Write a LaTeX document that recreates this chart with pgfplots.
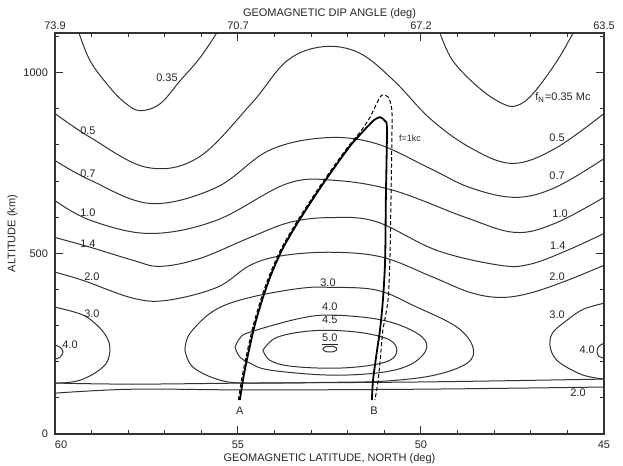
\documentclass[border=0pt]{standalone}
\usepackage{pgfplots}
\pgfplotsset{compat=1.18}
\usepackage{fontspec}
\setmainfont{Liberation Sans}
\newcommand{\fs}{\fontsize{5.5}{6.5}\selectfont}
\tikzset{lab/.style={font=\fs, inner sep=0pt, text=black!85}}
\pgfplotsset{ctr/.style={black!80, line width=0.5pt, smooth, tension=0.6}}
\begin{document}
\begin{tikzpicture}[font=\fs]
\useasboundingbox (-27.5pt,-16pt) rectangle (284pt,217pt);
\begin{axis}[
  at={(0pt,0pt)}, anchor=south west,
  scale only axis, width=274.5pt, height=200.5pt,
  xmin=45, xmax=60, ymin=0, ymax=1110, x dir=reverse,
  xtick={45,50,55,60}, xticklabels={45,50,55,{\makebox[0pt][l]{60}}},
  ytick={0,500,1000}, yticklabels={0,500,1000},
  minor xtick={46,...,59}, minor ytick={100,200,...,1100},
  tick align=inside, major tick length=4pt, minor tick length=1.8pt,
  tick style={black!80, line width=0.5pt},
  axis line style={black!80, line width=0.7pt},
  xlabel={GEOMAGNETIC LATITUDE, NORTH (deg)},
  ylabel={ALTITUDE (km)},
  tick label style={font=\fs, text=black!85},
  label style={font=\fs, text=black!85},
  xlabel style={yshift=4.5pt},
  ylabel style={yshift=-4pt},
]
% 0.35
\addplot[ctr] coordinates {(59.36,1115) (59.04,1033) (58.50,959) (58.09,917) (57.68,895) (57.13,914) (56.58,978) (56.04,1041) (55.55,1115)};
\addplot[ctr] coordinates {(49.50,1115) (49.13,1033) (48.39,956) (47.76,914) (47.38,909) (46.94,942) (46.28,1033) (45.82,1115)};
% 0.5
\addplot[ctr] coordinates {(60,887) (59.02,820) (57.49,738) (56.09,765) (54.64,914) (53.66,1033) (52.68,1072) (51.69,1055) (50.74,978) (49.75,873) (48.66,793) (47.51,749) (46.34,790) (45,887)};
% 0.7
\addplot[ctr] coordinates {(60,757) (59.02,702) (57.38,638) (55.60,682) (54.15,785) (52.62,820) (51.23,804) (49.75,735) (48.66,682) (47.43,655) (46.34,682) (45,762)};
% 1.0
\addplot[ctr] coordinates {(60,646) (59.02,591) (57.40,555) (55.60,591) (53.66,693) (52.35,702) (50.74,674) (48.77,599) (47.43,558) (46.34,583) (45,655)};
% 1.4
\addplot[ctr] coordinates {(60,544) (59.04,517) (57.87,481) (57.13,464) (56.04,486) (54.67,544) (53.58,586) (52.49,599) (51.23,588) (49.56,508) (47.84,467) (47.02,470) (46.01,508) (45,555)};
% 2.0 upper
\addplot[ctr] coordinates {(60,448) (59.23,425) (57.87,376) (56.94,370) (55.57,406) (54.67,467) (53.77,494) (52.40,503) (51.04,489) (49.67,434) (48.66,392) (47.84,378) (47.02,390) (46.01,425) (45,467)};
% 3.0
\addplot[ctr] coordinates {(60,351) (59.23,329) (58.77,293) (58.55,260) (58.50,232) (58.58,199) (58.83,174) (59.23,152) (59.6,143) (60,141)};
\addplot[ctr] coordinates {(45,362) (45.57,345) (46.01,315) (46.39,282) (46.48,251) (46.39,218) (46.15,193) (45.57,163) (45,152)};
\addplot[ctr] coordinates {(56.45,232) (56.31,279) (55.63,343) (54.67,378) (53.31,403) (52.49,406) (51.20,398) (50.11,351) (49.02,296) (48.58,240) (48.74,196) (49.67,162) (51.04,146) (52.49,143) (54.67,141) (55.49,149) (56.23,185) (56.45,232)};
\addplot[ctr] coordinates {(60,141) (57.87,138) (54.67,141) (50.03,144) (45,152)};
% 4.0
\addplot[ctr] coordinates {(55.08,240) (54.95,265) (54.67,282) (53.31,320) (52.40,329) (51.04,315) (50.11,279) (49.84,240) (50.22,196) (51.04,171) (52.49,163) (54.13,177) (54.67,196) (54.95,213) (55.08,240)};
\addplot[ctr] coordinates {(60,246) (59.86,240) (59.78,227) (59.86,213) (60,207)};
\addplot[ctr] coordinates {(45,251) (45.14,243) (45.19,229) (45.14,215) (45,210)};
% 4.5
\addplot[ctr] coordinates {(54.32,232) (53.99,265) (53.31,282) (52.49,287) (51.53,279) (50.85,260) (50.66,232) (50.85,204) (51.53,188) (52.49,182) (53.58,188) (54.13,204) (54.32,232)};
% 5.0
\addplot[ctr] coordinates {(52.68,235) (52.60,242) (52.38,242) (52.30,235) (52.38,228) (52.60,228) (52.68,235)};
% 2.0 lower
\addplot[ctr] coordinates {(60,113) (57.87,124) (54.67,122) (50.03,124) (45,130)};
% ray paths
\addplot[black, line width=0.5pt, dash pattern=on 2pt off 1.2pt, smooth, tension=0.5] coordinates {(54.99,94) (54.88,163) (54.74,232) (54.58,302) (54.38,371) (54.14,440) (53.84,509) (53.48,573) (53.10,634) (52.72,692) (52.34,747) (51.98,797) (51.64,839) (51.39,877) (51.23,911) (51.07,938) (50.90,933) (50.82,911) (50.79,869) (50.82,648) (50.85,482) (50.90,371) (51.04,288) (51.09,232) (51.17,149) (51.26,94)};
\addplot[black, line width=0.9pt, smooth, tension=0.5] coordinates {(54.95,94) (54.84,163) (54.70,232) (54.54,302) (54.34,371) (54.10,440) (53.80,509) (53.44,573) (53.06,634) (52.68,692) (52.30,747) (51.94,797) (51.67,828) (51.45,852) (51.28,869) (51.12,877) (50.98,866) (50.93,841) (50.96,648) (50.98,482) (51.04,371) (51.12,288) (51.20,232) (51.31,149) (51.34,94)};
% labels
\node[lab] at (axis cs:56.94,986) {0.35};
\node[lab] at (axis cs:59.10,840) {0.5};
\node[lab] at (axis cs:59.10,721) {0.7};
\node[lab] at (axis cs:59.10,613) {1.0};
\node[lab] at (axis cs:59.10,528) {1.4};
\node[lab] at (axis cs:58.99,434) {2.0};
\node[lab] at (axis cs:58.99,334) {3.0};
\node[lab] at (axis cs:59.59,246) {4.0};
\node[lab] at (axis cs:46.12,931) {f\textsubscript{N}=0.35 Mc};
\node[lab] at (axis cs:46.28,820) {0.5};
\node[lab] at (axis cs:46.28,715) {0.7};
\node[lab] at (axis cs:46.20,610) {1.0};
\node[lab] at (axis cs:46.26,522) {1.4};
\node[lab] at (axis cs:46.28,434) {2.0};
\node[lab] at (axis cs:46.28,329) {3.0};
\node[lab] at (axis cs:45.46,232) {4.0};
\node[lab] at (axis cs:45.71,113) {2.0};
\node[lab] at (axis cs:52.54,420) {3.0};
\node[lab] at (axis cs:52.49,351) {4.0};
\node[lab] at (axis cs:52.49,315) {4.5};
\node[lab] at (axis cs:52.49,262) {\underline{5.0}};
\node[lab, font=\fontsize{4.5}{5}\selectfont] at (axis cs:50.30,818) {f=1kc};
\node[lab] at (axis cs:54.95,64) {A};
\node[lab] at (axis cs:51.28,64) {B};
\end{axis}
\begin{axis}[
  at={(0pt,0pt)}, anchor=south west,
  scale only axis, width=274.5pt, height=200.5pt,
  xmin=45, xmax=60, ymin=0, ymax=1110, x dir=reverse,
  axis x line*=top, axis y line=none,
  xtick={45,50,55,60}, xticklabels={63.5,67.2,70.7,73.9},
  major tick length=0pt,
  axis line style={black!80, line width=0.7pt},
  xlabel={GEOMAGNETIC DIP ANGLE (deg)},
  tick label style={font=\fs, text=black!85},
  xticklabel style={yshift=-2pt},
  label style={font=\fs, text=black!85},
  xlabel style={yshift=-5pt},
]
\addplot[draw=none] coordinates {(50,500)};
\end{axis}
\end{tikzpicture}
\end{document}
